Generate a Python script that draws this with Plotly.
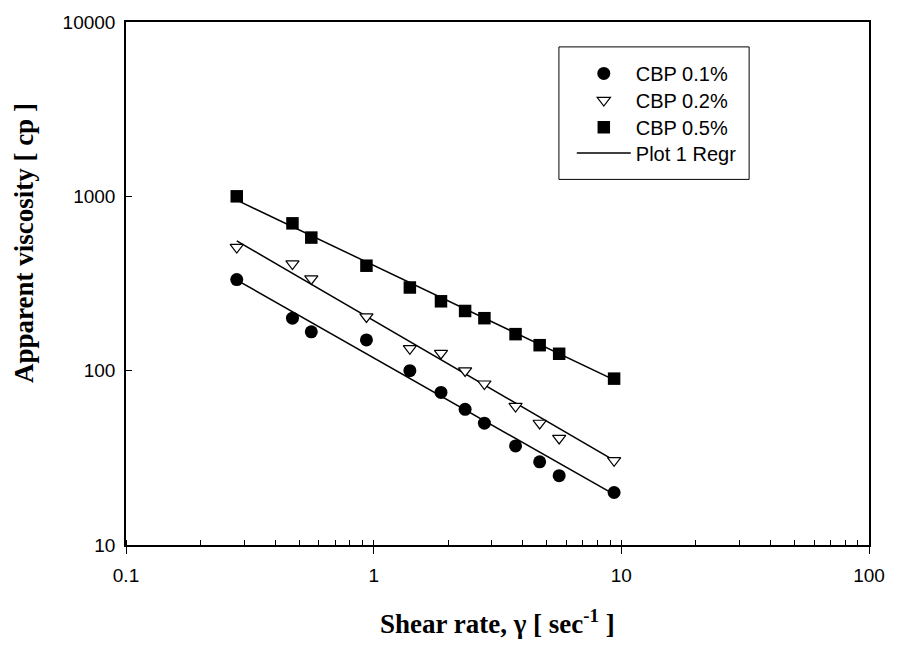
import plotly.graph_objects as go

# ---- data ----
shear_rate = [0.28, 0.47, 0.56, 0.935, 1.40, 1.87, 2.34, 2.80, 3.74, 4.68, 5.61, 9.35]
cbp_01 = [333, 200, 167, 150, 100, 75, 60, 50, 37, 30, 25, 20]
cbp_02 = [510, 410, 337, 204, 134, 126, 100, 84, 62.5, 50, 41, 30.5]
cbp_05 = [1000, 700, 580, 400, 300, 250, 220, 200, 162, 140, 125, 90]

# regression line end points (x range of data)
reg_x = [0.28, 9.35]
reg_01 = [331, 19.5]
reg_02 = [555, 30.6]
reg_05 = [951, 88.5]

series_names = ["CBP 0.1%", "CBP 0.2%", "CBP 0.5%"]
reg_name = "Plot 1 Regr"
x_title = "Shear rate, γ [ sec<sup>-1</sup> ]"
y_title = "Apparent viscosity [ cp ]"

W, H = 897, 645
L, R, T, B = 126, 21, 20, 100
pw, ph = W - L - R, H - T - B


def px_x(p):
    return (p - L) / pw


def px_y(p):
    return (H - B - p) / ph


fig = go.Figure()

# regression lines
for yy in [reg_01, reg_02, reg_05]:
    fig.add_trace(go.Scatter(
        x=reg_x, y=yy, mode="lines",
        line=dict(color="black", width=1.5),
        name=reg_name, showlegend=False,
    ))

fig.add_trace(go.Scatter(
    x=shear_rate, y=cbp_01, mode="markers", name=series_names[0],
    marker=dict(symbol="circle", size=13, color="black", line=dict(width=0)),
    legend="legend",
))
fig.add_trace(go.Scatter(
    x=shear_rate, y=cbp_02, mode="markers", name=series_names[1],
    marker=dict(symbol="triangle-down", size=11.5, color="white",
                line=dict(color="black", width=1.2)),
    legend="legend2",
))
fig.add_trace(go.Scatter(
    x=shear_rate, y=cbp_05, mode="markers", name=series_names[2],
    marker=dict(symbol="square", size=12.5, color="black", line=dict(width=0)),
    legend="legend3",
))
# legend entry for regression line
fig.add_trace(go.Scatter(
    x=[None], y=[None], mode="lines", name=reg_name,
    line=dict(color="black", width=1.5), legend="legend4",
))

tick_font = dict(family="Arial, Liberation Sans, sans-serif", size=19, color="black")

fig.update_xaxes(
    type="log", range=[-1, 2], dtick=1, tickformat="~g",
    showline=True, linecolor="black", linewidth=1.5, mirror=True,
    showgrid=False, zeroline=False,
    ticks="outside", ticklen=7, tickwidth=1.2, tickcolor="black",
    ticklabelstandoff=5,
    minor=dict(ticks="inside", ticklen=5, tickwidth=1, tickcolor="black", showgrid=False),
    tickfont=tick_font,
)
fig.update_yaxes(
    type="log", range=[1, 4], dtick=1, tickformat="~g",
    showline=True, linecolor="black", linewidth=1.5, mirror=True,
    showgrid=False, zeroline=False,
    ticks="inside", ticklen=6, tickwidth=1.2, tickcolor="black",
    ticklabelstandoff=5,
    tickfont=tick_font,
)

title_font = dict(family="Times New Roman, Liberation Serif, serif", size=27,
                  color="black", weight="bold")

legend_font = dict(family="Arial, Liberation Sans, sans-serif", size=20, color="black")
row_centers = [73, 100, 127, 153]


def legend_at(row):
    return dict(
        x=px_x(576), y=px_y(row - 21), xanchor="left", yanchor="top",
        bgcolor="rgba(0,0,0,0)", borderwidth=0, font=legend_font,
        itemwidth=54,
    )


fig.update_layout(
    width=W, height=H,
    margin=dict(l=L, r=R, t=T, b=B),
    plot_bgcolor="white", paper_bgcolor="white",
    legend=legend_at(row_centers[0]),
    legend2=legend_at(row_centers[1]),
    legend3=legend_at(row_centers[2]),
    legend4=legend_at(row_centers[3]),
    shapes=[dict(
        type="rect", xref="paper", yref="paper",
        x0=px_x(563), x1=px_x(755), y0=px_y(178), y1=px_y(45),
        line=dict(color="black", width=1), fillcolor="white", layer="below",
    )],
    annotations=[
        dict(text=x_title, xref="paper", yref="paper", x=0.5, y=px_y(622),
             xanchor="center", yanchor="middle", showarrow=False, font=title_font),
        dict(text=y_title, xref="paper", yref="paper", x=px_x(23), y=px_y(242),
             xanchor="center", yanchor="middle", showarrow=False, textangle=-90,
             font=title_font),
    ],
)

fig.write_html("out.html")
